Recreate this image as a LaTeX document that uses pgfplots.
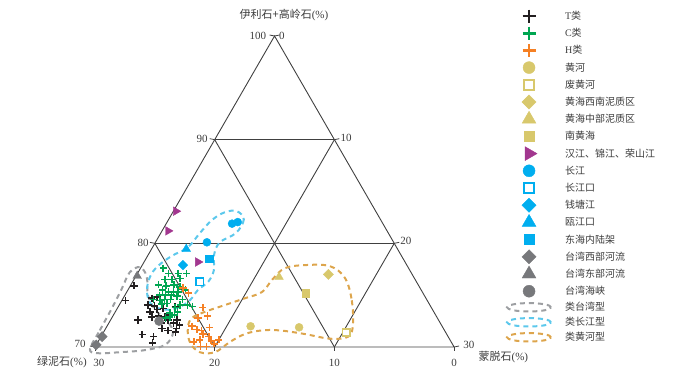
\documentclass[border=0pt]{standalone}
\usepackage{fontspec}
\setmainfont{Liberation Serif}
\newfontfamily\cjk{Noto Sans CJK SC}
\usepackage{pgfplots}
\usepackage{pgfplotstable}
\pgfplotsset{compat=1.18}

\definecolor{cT}{HTML}{231F20}
\definecolor{cC}{HTML}{00A651}
\definecolor{cH}{HTML}{F58024}
\definecolor{cY}{HTML}{D8C86C}
\definecolor{cM}{HTML}{A2378F}
\definecolor{cB}{HTML}{00AEEF}
\definecolor{cG}{HTML}{77787B}
\definecolor{eG}{HTML}{9D9FA2}
\definecolor{eB}{HTML}{5CC8EC}
\definecolor{eY}{HTML}{DDA54C}
\definecolor{frm}{HTML}{404040}
\definecolor{txt}{HTML}{3C3C3C}

% ternary values: IK = illite+kaolinite (%), S = smectite (%), chlorite = 100-IK-S
\pgfplotstableread{
IK S
75.9 0.3
74.5 0.3
74.7 2.4
74.8 2.8
74.05 2.4
73.95 3.0
73.4 2.9
73.6 3.4
73.7 3.85
73.9 4.75
72.9 3.3
73.0 3.8
72.9 4.4
72.6 4.8
72.6 5.55
72.6 2.3
71.2 3.35
71.0 4.4
71.8 5.9
71.6 5.3
70.4 4.6
72.3 5.4
72.3 4.4
72.1 6.0
71.45 6.0
73.1 4.7
71.8 4.7
}\tblT
\pgfplotstableread{
IK S
77.6 1.9
77.1 2.6
77.1 3.4
77.1 4.1
76.5 2.6
76.5 3.2
76.6 3.8
76.0 2.3
75.9 3.0
76.0 3.6
75.8 4.2
75.5 4.8
75.5 2.9
75.3 3.5
75.3 3.9
75.3 4.3
75.0 2.9
75.0 3.4
75.0 3.9
74.9 4.4
74.6 2.6
74.5 3.2
74.6 3.5
74.6 4.0
74.6 5.0
74.15 3.5
74.2 3.9
74.05 5.1
74.05 5.7
73.9 6.2
73.8 4.8
73.3 4.6
73.1 5.1
73.4 5.2
72.8 4.5
72.9 4.8
}\tblC
\pgfplotstableread{
IK S
75.2 5.2
75.7 4.5
73.8 7.1
73.0 7.9
72.8 7.2
72.0 7.1
71.7 7.65
71.6 8.1
71.9 8.6
71.25 8.4
71.0 9.0
70.6 9.4
70.3 9.8
70.7 8.4
70.5 8.0
70.7 10.0
70.05 8.8
70.05 9.3
}\tblH
\pgfplotstableread{
IK S
69.8 -0.32
71.6 -0.40
73.8 -0.46
75.7 -0.58
77.2 -0.70
77.7 -0.10
76.8 0.92
75.0 1.92
73.6 3.23
72.4 4.89
71.35 5.84
70.2 5.75
69.7 4.32
69.5 2.33
69.4 0.54
}\envG
\pgfplotstableread{
IK S
83.1 5.30
82.3 6.28
81.0 6.28
80.1 5.38
78.9 5.50
77.4 6.23
76.3 6.31
75.5 5.85
74.5 5.67
73.8 5.05
73.6 4.07
74.05 2.73
75.3 1.69
76.75 1.21
77.8 1.35
78.8 2.04
79.6 2.95
81.0 3.27
82.25 3.65
83.0 4.35
}\envB
\pgfplotstableread{
IK S
76.65 17.56
74.5 19.2
72.1 20.49
71.0 20.66
70.8 19.24
71.25 16.91
71.6 14.64
71.6 13.13
71.25 11.9
70.5 11.04
69.5 10.27
69.5 9.01
70.4 7.75
71.8 6.85
72.8 6.70
73.4 7.5
74.05 8.83
74.7 10.17
75.3 11.3
76.5 11.56
77.6 12.06
77.9 13.59
77.8 15.72
}\envY

\pgfplotsset{
  /pgfplots/table/tern/.style={x expr=\thisrow{S}+(\thisrow{IK}-70)/2, y expr=(\thisrow{IK}-70)*0.8660254},
  lgm/.style={legend image code/.code={\path[draw=none,fill=none] (-12pt,-8.6pt) rectangle (32pt,8.6pt); \draw[##1,mark size=#1] plot coordinates {(10pt,0pt)};}},
  lgc/.style={legend image code/.code={\path[draw=none,fill=none] (-12pt,-8.6pt) rectangle (32pt,8.6pt); \draw[##1,mark size=6.5pt,mark options={line width=2.6pt}] plot coordinates {(10pt,0pt)};}},
  lge/.style={legend image code/.code={\path[draw=none,fill=none] (-12pt,-7.5pt) rectangle (32pt,7.5pt); \draw[##1] (10pt,0pt) ellipse (22pt and 4.2pt);}},
  crs/.style={only marks, mark=+, mark size=3.6pt, color=#1, mark options={line width=1.6pt}, lgc},
  env/.style={smooth cycle, tension=0.6, color=#1, line width=2pt, dash pattern=on 5pt off 4pt, lge},
}

\begin{document}
\begin{tikzpicture}[font=\fontsize{11}{13}\selectfont]
\begin{axis}[
  hide axis, x=11.97pt, y=11.97pt,
  xmin=0, xmax=30, ymin=0, ymax=26,
  clip=false, anchor=origin, at={(0pt,0pt)},
  legend cell align=left,
  legend style={at={(axis cs:34.34,28.37)}, anchor=north west, draw=none, fill=none,
    inner sep=0pt, outer sep=0pt, row sep=0pt,
    nodes={inner sep=0pt, anchor=west, text=txt},
    /tikz/every odd column/.append style={column sep=13pt},
    font=\fontsize{10}{12}\selectfont},
]
% frame and grid
\draw[frm, line width=0.9pt] (axis cs:0,0) -- (axis cs:30,0) -- (axis cs:15,25.98) -- cycle;
\draw[frm, line width=0.9pt] (axis cs:5,8.66) -- (axis cs:25,8.66);
\draw[frm, line width=0.9pt] (axis cs:10,17.32) -- (axis cs:20,17.32);
\draw[frm, line width=0.9pt] (axis cs:5,8.66) -- (axis cs:10,0);
\draw[frm, line width=0.9pt] (axis cs:10,17.32) -- (axis cs:20,0);
\draw[frm, line width=0.9pt] (axis cs:20,17.32) -- (axis cs:10,0);
\draw[frm, line width=0.9pt] (axis cs:25,8.66) -- (axis cs:20,0);
% ticks
\draw[frm, line width=0.8pt] (axis cs:15,25.98) -- ++(-5pt,1pt);
\draw[frm, line width=0.8pt] (axis cs:10,17.32) -- ++(-5pt,1pt);
\draw[frm, line width=0.8pt] (axis cs:5,8.66) -- ++(-5pt,1pt);
\draw[frm, line width=0.8pt] (axis cs:0,0) -- ++(-5pt,1pt);
\draw[frm, line width=0.8pt] (axis cs:15,25.98) -- ++(5pt,1pt);
\draw[frm, line width=0.8pt] (axis cs:20,17.32) -- ++(5pt,1pt);
\draw[frm, line width=0.8pt] (axis cs:25,8.66) -- ++(5pt,1pt);
\draw[frm, line width=0.8pt] (axis cs:30,0) -- ++(5pt,1pt);
\draw[frm, line width=0.8pt] (axis cs:0,0) -- ++(0pt,-4pt);
\draw[frm, line width=0.8pt] (axis cs:10,0) -- ++(0pt,-4pt);
\draw[frm, line width=0.8pt] (axis cs:20,0) -- ++(0pt,-4pt);
\draw[frm, line width=0.8pt] (axis cs:30,0) -- ++(0pt,-4pt);
% tick labels
\node[text=txt] at (axis cs:13.61,25.98) {100};
\node[text=txt] at (axis cs:15.62,25.98) {0};
\node[text=txt] at (axis cs:8.94,17.38) {90};
\node[text=txt] at (axis cs:4.01,8.69) {80};
\node[text=txt] at (axis cs:-1.25,0.25) {70};
\node[text=txt] at (axis cs:20.97,17.46) {10};
\node[text=txt] at (axis cs:25.98,8.86) {20};
\node[text=txt] at (axis cs:31.24,0.17) {30};
\node[text=txt] at (axis cs:0.33,-1.35) {30};
\node[text=txt] at (axis cs:10.0,-1.3) {20};
\node[text=txt] at (axis cs:20.0,-1.3) {10};
\node[text=txt] at (axis cs:30.0,-1.3) {0};
\node[text=txt] at (axis cs:15.79,27.74) {{\cjk 伊利石+高岭石}(\%)};
\node[text=txt] at (axis cs:-2.76,-1.25) {{\cjk 绿泥石}(\%)};
\node[text=txt, anchor=west] at (axis cs:31.75,-0.84) {{\cjk 蒙脱石}(\%)};

\addplot[crs=cT] table[tern] {\tblT};
\addlegendentry{T{\cjk 类}}
\addplot[crs=cC] table[tern] {\tblC};
\addlegendentry{C{\cjk 类}}
\addplot[crs=cH] table[tern] {\tblH};
\addlegendentry{H{\cjk 类}}

\addplot[only marks, mark=*, mark size=4pt, color=cY, lgm=6pt] table[tern] {
IK S
72.0 12.0
71.9 16.1
};
\addlegendentry{\cjk 黄河}
\addplot[only marks, mark=square*, mark size=3.8pt, color=cY, mark options={fill=white, draw=cY, line width=1.8pt}, lgm=5.2pt] table[tern] {
IK S
71.4 20.3
};
\addlegendentry{\cjk 废黄河}
\addplot[only marks, mark=square*, mark size=3.6pt, color=cY, mark options={rotate=45}, lgm=5pt] table[tern] {
IK S
77.0 16.0
};
\addlegendentry{\cjk 黄海西南泥质区}
\addplot[only marks, mark=triangle*, mark size=5pt, color=cY, lgm=8pt] table[tern] {
IK S
76.75 12.0
};
\addlegendentry{\cjk 黄海中部泥质区}
\addplot[only marks, mark=square*, mark size=3.8pt, color=cY, lgm=5pt] table[tern] {
IK S
75.2 15.0
};
\addlegendentry{\cjk 南黄海}
\addplot[only marks, mark=triangle*, mark size=5pt, color=cM, mark options={rotate=-90}, lgm=8pt] table[tern] {
IK S
83.1 0.2
81.2 0.5
78.2 4.5
};
\addlegendentry{\cjk 汉江、锦江、荣山江}
\addplot[only marks, mark=*, mark size=4pt, color=cB, lgm=6pt] table[tern] {
IK S
81.9 5.5
82.05 5.9
80.1 4.3
};
\addlegendentry{\cjk 长江}
\addplot[only marks, mark=square*, mark size=3.8pt, color=cB, mark options={fill=white, draw=cB, line width=1.8pt}, lgm=5.2pt] table[tern] {
IK S
76.3 5.6
};
\addlegendentry{\cjk 长江口}
\addplot[only marks, mark=square*, mark size=3.4pt, color=cB, mark options={rotate=45}, lgm=5pt] table[tern] {
IK S
77.9 3.4
};
\addlegendentry{\cjk 钱塘江}
\addplot[only marks, mark=triangle*, mark size=5pt, color=cB, lgm=8pt] table[tern] {
IK S
79.45 2.9
};
\addlegendentry{\cjk 瓯江口}
\addplot[only marks, mark=square*, mark size=3.8pt, color=cB, lgm=5pt] table[tern] {
IK S
78.5 5.3
};
\addlegendentry{\cjk 东海内陆架}
\addplot[only marks, mark=square*, mark size=3.6pt, color=cG, mark options={rotate=45}, lgm=5pt] table[tern] {
IK S
71.0 0.1
70.2 0.0
};
\addlegendentry{\cjk 台湾西部河流}
\addplot[only marks, mark=triangle*, mark size=5pt, color=cG, lgm=8pt] table[tern] {
IK S
76.85 0.1
};
\addlegendentry{\cjk 台湾东部河流}
\addplot[only marks, mark=*, mark size=4.5pt, color=cG, lgm=6pt] table[tern] {
IK S
72.5 4.1
};
\addlegendentry{\cjk 台湾海峡}

\addplot[env=eG] table[tern] {\envG};
\addlegendentry{\cjk 类台湾型}
\addplot[env=eB] table[tern] {\envB};
\addlegendentry{\cjk 类长江型}
\addplot[env=eY] table[tern] {\envY};
\addlegendentry{\cjk 类黄河型}

\coordinate (O) at (axis cs:0,0);
\end{axis}
\pgfresetboundingbox
\path[use as bounding box] ([shift={(-95pt,-25pt)}]O) rectangle ([shift={(595pt,347pt)}]O);
\end{tikzpicture}
\end{document}
